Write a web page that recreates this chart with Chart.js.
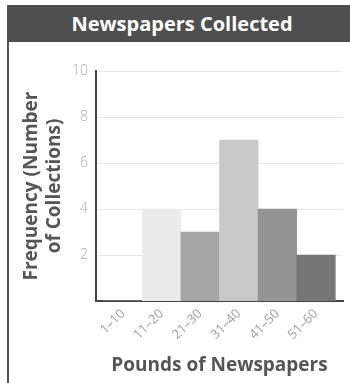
<!DOCTYPE html>
<html>
<head>
<meta charset="utf-8">
<script src="https://cdn.jsdelivr.net/npm/chart.js@4/dist/chart.umd.min.js"></script>
<style>
  html, body { margin: 0; padding: 0; background: #fff; }
  #wrap { position: relative; width: 350px; height: 383px; overflow: hidden; }
  #chart { position: absolute; left: 0; top: 0; }
  #frame { position: absolute; left: 7px; top: 5px; width: 2px; height: 378px; background: #555; }
  #head {
    position: absolute; left: 8px; top: 5px; width: 342px; height: 37px;
    background: #4f4f4f; color: #fff;
    font: 700 20px 'Open Sans', sans-serif; line-height: 37px;
    text-align: center; text-indent: 6px;
  }
</style>
</head>
<body>
<div id="wrap">
  <canvas id="chart" width="350" height="383"></canvas>
  <div id="frame"></div>
  <div id="head">Newspapers Collected</div>
</div>
<script>
  // Histogram data: pound ranges and how many collections fell in each
  var ranges = ['1–10', '11–20', '21–30', '31–40', '41–50', '51–60'];
  var counts = [0, 4, 3, 7, 4, 2];
  var yTicks = [2, 4, 6, 8, 10];

  var barColors = ['#e4e4e4', '#ebebeb', '#a6a6a6', '#c9c9c9', '#949494', '#767676'];

  var TITLE_FONT = { family: "'Open Sans', sans-serif", size: 19, weight: 700, lineHeight: 1.2 };

  new Chart(document.getElementById('chart'), {
    type: 'bar',
    data: {
      datasets: [{
        data: counts.map(function (c, i) { return { x: i, y: c }; }),
        backgroundColor: barColors,
        borderWidth: 0,
        barPercentage: 1,
        categoryPercentage: 1
      }]
    },
    options: {
      responsive: false,
      animation: false,
      layout: { padding: { top: 71, right: 7, left: 0, bottom: 0 } },
      plugins: { legend: { display: false }, tooltip: { enabled: false } },
      scales: {
        x: {
          type: 'linear',
          offset: false,
          min: -0.7,
          max: 5.7,
          afterFit: function (s) { s.height = 82; },
          afterBuildTicks: function (s) {
            s.ticks = ranges.map(function (r, i) { return { value: i }; });
          },
          grid: { display: false, drawTicks: false },
          border: { display: true, color: '#444', width: 2 },
          ticks: {
            maxRotation: 45,
            minRotation: 45,
            padding: 5,
            color: '#a0a0a0',
            font: { family: "'Open Sans', sans-serif", size: 13 },
            callback: function (v) { return ranges[v]; }
          },
          title: {
            display: true,
            text: 'Pounds of Newspapers',
            color: '#555',
            font: TITLE_FONT,
            padding: { top: 0, bottom: 6 }
          }
        },
        y: {
          min: 0,
          max: 10,
          afterFit: function (s) { s.width = 96; },
          afterBuildTicks: function (s) {
            s.ticks = yTicks.map(function (v) { return { value: v }; });
          },
          grid: { color: '#e8e8e8', lineWidth: 1, drawTicks: false },
          border: { display: true, color: '#444', width: 2 },
          ticks: {
            padding: 8,
            color: '#aaa',
            font: { family: "'Open Sans', sans-serif", size: 14, weight: 300 }
          },
          title: {
            display: true,
            text: ['Frequency (Number', 'of Collections)'],
            color: '#555',
            font: TITLE_FONT,
            padding: { top: 20, bottom: 0 }
          }
        }
      }
    }
  });
</script>
</body>
</html>
